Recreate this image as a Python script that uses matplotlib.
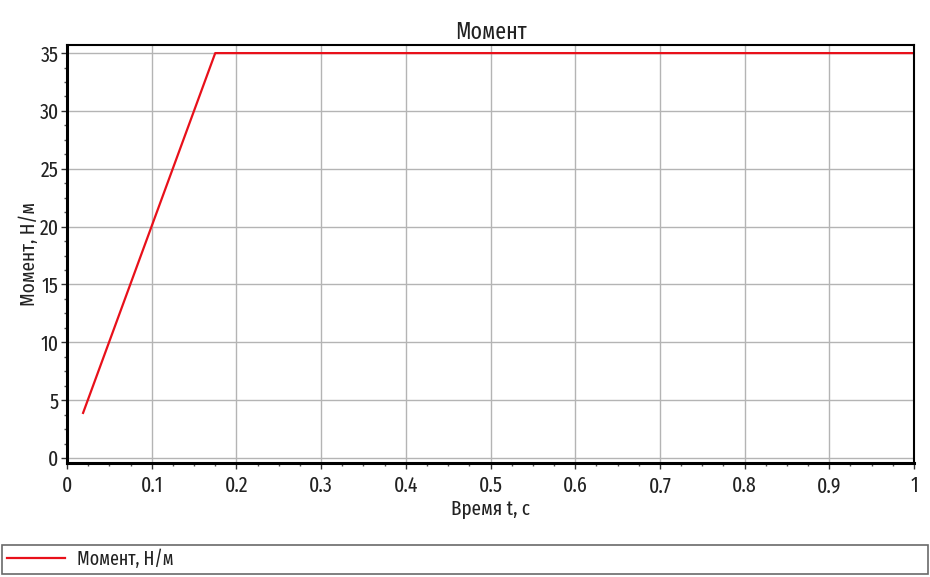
import matplotlib
matplotlib.use("Agg")
import matplotlib.pyplot as plt
from matplotlib.ticker import MultipleLocator
from matplotlib.lines import Line2D

plt.rcParams['font.family'] = ['Fira Sans Extra Condensed', 'Roboto Condensed', 'DejaVu Sans']
plt.rcParams['font.weight'] = 'normal'

# data
t = [0.019, 0.175, 1.0]
moment = [3.9, 35.0, 35.0]
title = "Момент"
xlabel = "Время t, с"
ylabel = "Момент, Н/м"
legend_label = "Момент, Н/м"
xticks = [0, 0.1, 0.2, 0.3, 0.4, 0.5, 0.6, 0.7, 0.8, 0.9, 1]
xticklabels = ["0", "0.1", "0.2", "0.3", "0.4", "0.5", "0.6", "0.7", "0.8", "0.9", "1"]
yticks = [0, 5, 10, 15, 20, 25, 30, 35]

fig = plt.figure(figsize=(9.3, 5.77), dpi=100)
ax = fig.add_axes([67/930, 1-463/577, (914-67)/930, (463-45)/577])
ax.plot(t, moment, color='#e8101a', lw=1.6)
ax.set_xlim(0, 1)
ax.set_ylim(-0.43, 35.7)
ax.set_xticks(xticks)
ax.set_xticklabels(xticklabels)
ax.set_yticks(yticks)
ax.xaxis.set_minor_locator(MultipleLocator(0.025))
ax.yaxis.set_minor_locator(MultipleLocator(1.25))
ax.grid(True, which='major', color='#b4b4b4', lw=1.0)
ax.tick_params(axis='x', which='major', pad=5)
ax.tick_params(axis='y', which='major', pad=2)
ax.tick_params(which='major', length=4, width=1, labelsize=15.5, color='#333333',
               labelcolor='#222222')
ax.tick_params(which='minor', length=2.5, width=1, color='#555555')
for s in ['left', 'bottom']:
    ax.spines[s].set_linewidth(2.2)
for s in ['top', 'right']:
    ax.spines[s].set_linewidth(1.5)
ax.set_title(title, fontsize=17, pad=4, color='#222222')
ax.set_xlabel(xlabel, fontsize=15, labelpad=2, color='#222222')
ax.set_ylabel(ylabel, fontsize=15, labelpad=0, color='#222222')

handle = Line2D([], [], color='#e8101a', lw=1.6)
leg = fig.legend([handle], [legend_label], loc='lower left',
                 bbox_to_anchor=(2/930, 3/577, 926/930, 32/577), mode='expand',
                 frameon=True, fancybox=False, edgecolor='#444444', fontsize=14,
                 handlelength=3.0, handletextpad=0.6, borderaxespad=0, borderpad=0.25,
                 labelcolor='#222222')
leg.get_frame().set_linewidth(1.2)

fig.savefig("out.png", dpi=100, facecolor='white')
